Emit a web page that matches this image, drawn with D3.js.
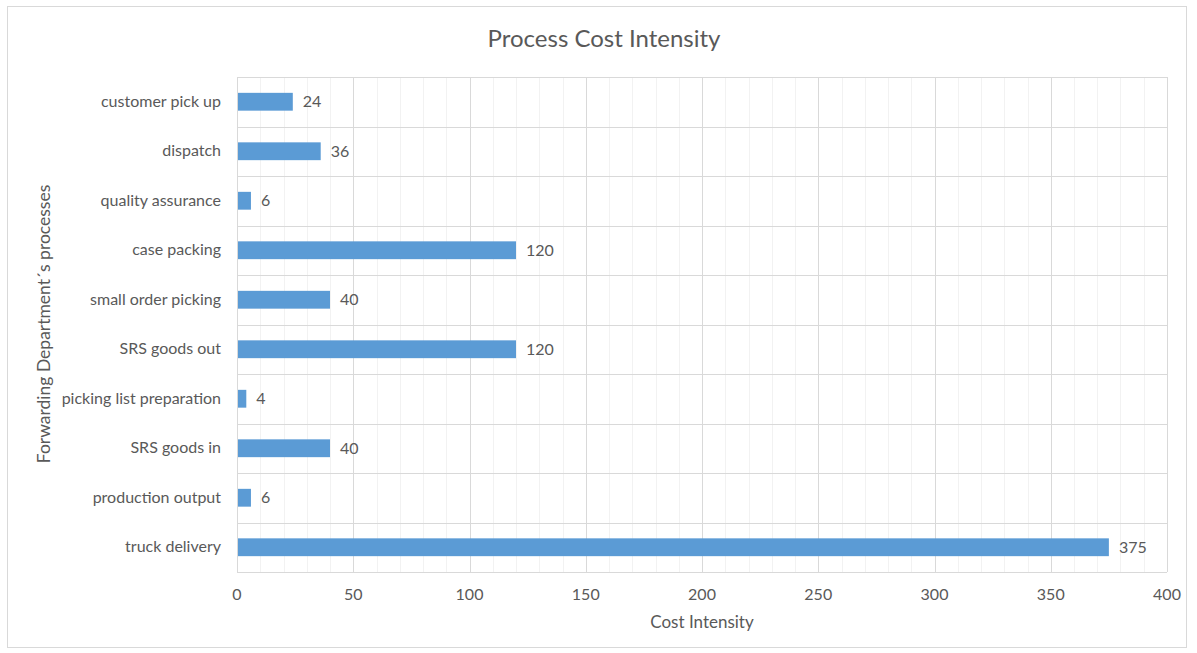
<!DOCTYPE html>
<html><head><meta charset="utf-8">
<script src="https://cdn.jsdelivr.net/npm/d3@7"></script>
<style>body{margin:0;background:#fff;} text{font-family:Lato,"Open Sans",sans-serif;}</style>
</head><body>
<svg id="c" width="1197" height="653"></svg>
<script>
const categories = ["customer pick up","dispatch","quality assurance","case packing","small order picking","SRS goods out","picking list preparation","SRS goods in","production output","truck delivery"];
const values = [24,36,6,120,40,120,4,40,6,375];
const xTicks = [0,50,100,150,200,250,300,350,400];
const title = "Process Cost Intensity";
const xTitle = "Cost Intensity";
const yTitle = "Forwarding Department´s processes";

const svg = d3.select("#c");
const L=237,R=1167,T=77,B=572;
const txt="#595959";
svg.append("rect").attr("x",7.5).attr("y",6.5).attr("width",1179).attr("height",641).attr("fill","#fff").attr("stroke","#d9d9d9");
const x=d3.scaleLinear().domain([0,400]).range([L,R]);
const y=d3.scaleBand().domain(categories).range([T,B]).paddingInner(0).paddingOuter(0);
const g=svg.append("g");
g.selectAll(".mn").data(d3.range(0,401,10)).join("line")
 .attr("x1",d=>Math.round(x(d))+0.5).attr("x2",d=>Math.round(x(d))+0.5).attr("y1",T).attr("y2",B)
 .attr("stroke","#f2f2f2");
g.selectAll(".hb").data(categories.concat(["_end"])).join("line")
 .attr("x1",L).attr("x2",R)
 .attr("y1",(d,i)=>Math.round(T+i*y.step())+0.5).attr("y2",(d,i)=>Math.round(T+i*y.step())+0.5)
 .attr("stroke","#d9d9d9");
g.selectAll(".mj").data(xTicks).join("line")
 .attr("x1",d=>Math.round(x(d))+0.5).attr("x2",d=>Math.round(x(d))+0.5).attr("y1",T).attr("y2",B)
 .attr("stroke","#d9d9d9");
const bh=y.bandwidth()*0.36;
g.selectAll(".bar").data(values).join("rect")
 .attr("x",x(0)+1).attr("y",(d,i)=>y(categories[i])+y.bandwidth()/2-bh/2)
 .attr("width",d=>x(d)-x(0)-1).attr("height",bh).attr("fill","#5B9BD5");
g.selectAll(".vl").data(values).join("text")
 .attr("x",d=>x(d)+10).attr("y",(d,i)=>y(categories[i])+y.bandwidth()/2)
 .attr("dy","0.35em").attr("font-size",16).attr("fill",txt).text(d=>d);
g.selectAll(".cl").data(categories).join("text")
 .attr("x",221).attr("y",d=>y(d)+y.bandwidth()/2).attr("dy","0.3em")
 .attr("text-anchor","end").attr("font-size",16).attr("fill",txt).text(d=>d);
g.selectAll(".xt").data(xTicks).join("text")
 .attr("x",d=>x(d)).attr("y",600).attr("text-anchor","middle").attr("font-size",16).attr("fill",txt).text(d=>d);
svg.append("text").attr("x",604).attr("y",47).attr("text-anchor","middle").attr("font-size",24).attr("fill",txt).text(title);
svg.append("text").attr("x",702).attr("y",628).attr("text-anchor","middle").attr("font-size",17).attr("fill",txt).text(xTitle);
svg.append("text").attr("transform","translate(50,324) rotate(-90)").attr("text-anchor","middle").attr("font-size",17.5).attr("fill",txt).text(yTitle);
</script>
</body></html>
